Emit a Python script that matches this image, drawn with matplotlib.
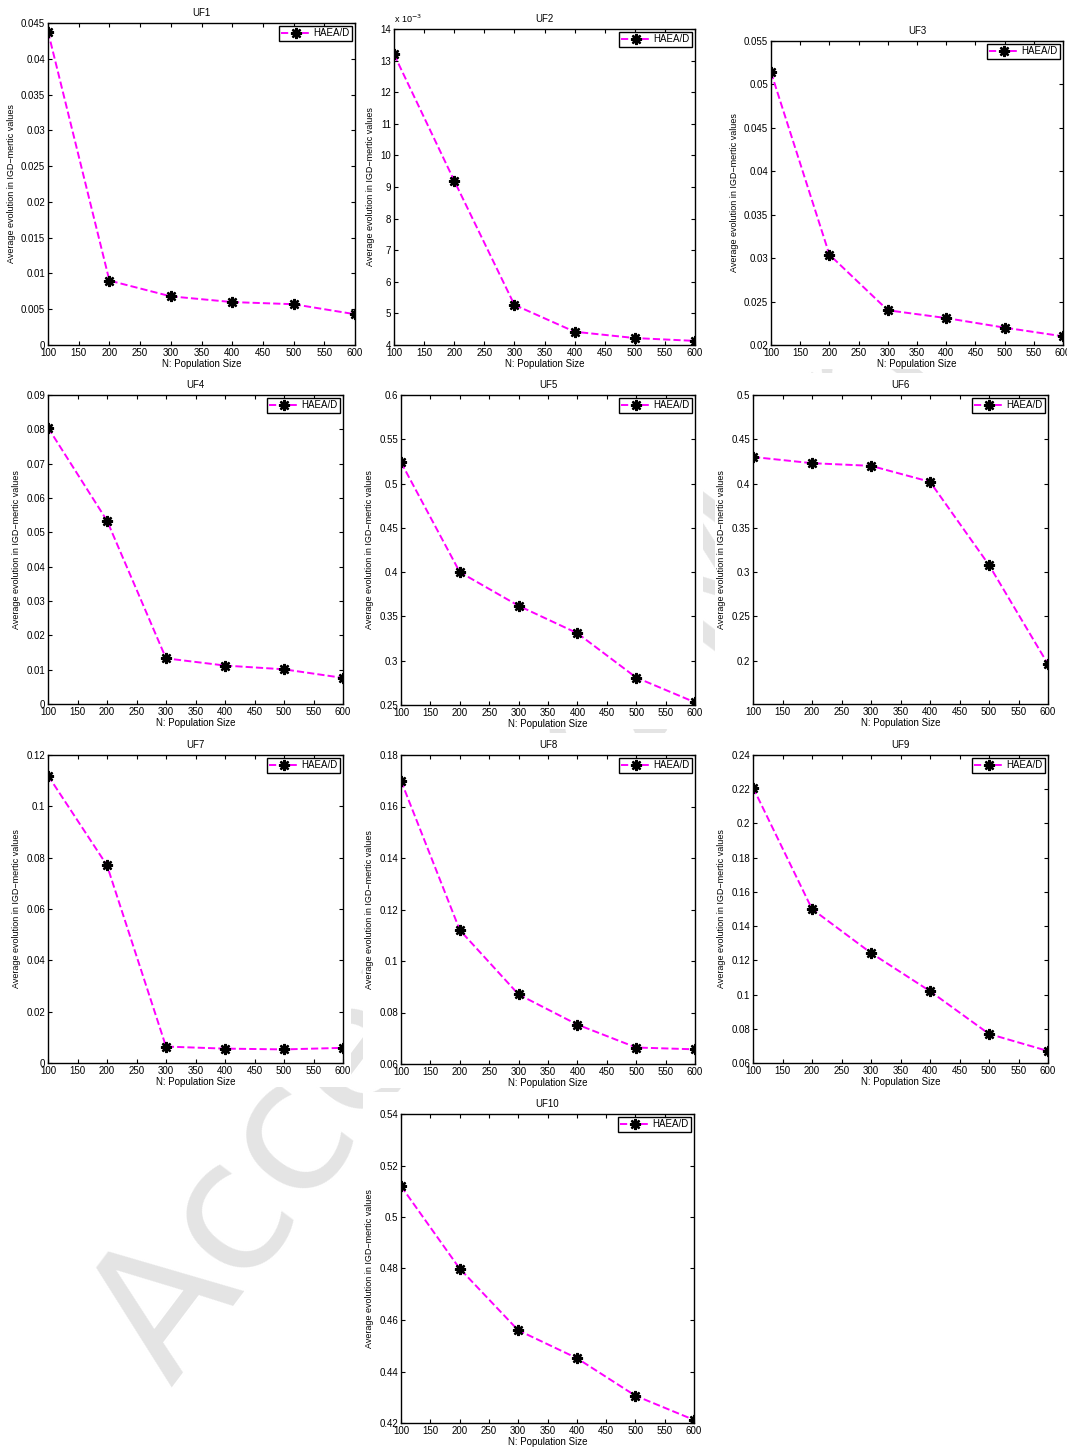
import matplotlib
matplotlib.use("Agg")
import matplotlib.pyplot as plt
from matplotlib.ticker import FuncFormatter
from matplotlib.patches import Rectangle
import numpy as np

plt.rcParams['font.family'] = ['Liberation Sans', 'DejaVu Sans']
plt.rcParams['axes.unicode_minus'] = False

# population sizes (x axis)
pop_size = [100, 200, 300, 400, 500, 600]

# average IGD values per problem
uf1 = [0.0438, 0.0090, 0.0068, 0.0060, 0.0057, 0.0043]
uf2 = [13.2e-3, 9.2e-3, 5.27e-3, 4.42e-3, 4.22e-3, 4.13e-3]
uf3 = [0.0514, 0.0304, 0.0240, 0.0231, 0.0220, 0.0210]
uf4 = [0.0805, 0.0534, 0.0133, 0.0112, 0.0101, 0.0076]
uf5 = [0.524, 0.400, 0.362, 0.331, 0.281, 0.253]
uf6 = [0.430, 0.423, 0.420, 0.402, 0.308, 0.196]
uf7 = [0.112, 0.077, 0.0064, 0.0056, 0.0053, 0.0059]
uf8 = [0.170, 0.112, 0.087, 0.0753, 0.0664, 0.0657]
uf9 = [0.221, 0.150, 0.1243, 0.102, 0.077, 0.067]
uf10 = [0.512, 0.480, 0.456, 0.4452, 0.4306, 0.4212]

titles = ['UF1', 'UF2', 'UF3', 'UF4', 'UF5', 'UF6', 'UF7', 'UF8', 'UF9', 'UF10']
series = [uf1, uf2, uf3, uf4, uf5, uf6, uf7, uf8, uf9, uf10]

# y limits and tick step for each panel
ylims = [(0, 0.045), (4e-3, 14e-3), (0.02, 0.055), (0, 0.09), (0.25, 0.6),
         (0.151, 0.5), (0, 0.12), (0.06, 0.18), (0.06, 0.24), (0.42, 0.54)]
ysteps = [0.005, 1e-3, 0.005, 0.01, 0.05, 0.05, 0.02, 0.02, 0.02, 0.02]

# axes boxes in pixels (left, top, right, bottom)
W, H = 1067, 1450
boxes = [(48, 23, 355, 345), (394, 29, 695, 345), (771, 41, 1063, 345),
         (48, 395, 343, 704), (401, 395, 695, 705), (753, 395, 1048, 704),
         (48, 755, 343, 1063), (401, 755, 695, 1064), (753, 755, 1048, 1063),
         (401, 1114, 694, 1423)]


def fmt(v, p):
    return '%g' % (round(v, 6) + 0.0)


def fmt_e3(v, p):
    return '%g' % (round(v * 1e3, 6) + 0.0)


fig = plt.figure(figsize=(W / 100, H / 100), dpi=100)

# faint watermark behind the panels
fig.text(172 / W, 1 - 1388 / H, "Accepted Manuscript", fontsize=130, color='#e4e4e4',
         rotation=53, rotation_mode='anchor', ha='left', va='baseline',
         zorder=-2, family='DejaVu Sans')

for i in range(10):
    l, t, r, b = boxes[i]
    # white backing for each panel (labels included), hides the watermark
    fig.patches.append(Rectangle(((l - 38) / W, 1 - (b + 24) / H),
                                 (r - l + 46) / W, (b - t + 46) / H,
                                 transform=fig.transFigure, facecolor='white',
                                 edgecolor='none', zorder=-1))
    ax = fig.add_axes([l / W, 1 - b / H, (r - l) / W, (b - t) / H])
    ax.set_facecolor('white')
    ax.plot(pop_size, series[i], linestyle='--', color='#ff00ff', linewidth=1.4,
            marker=(8, 2, 0), markersize=8, markeredgecolor='black',
            markeredgewidth=1.7, label='HAEA/D')
    ax.set_xlim(100, 600)
    ax.set_xticks(np.arange(100, 601, 50))
    lo, hi = ylims[i]
    ax.set_ylim(lo, hi)
    start = np.ceil(lo / ysteps[i] - 1e-6) * ysteps[i]
    ax.set_yticks(np.arange(start, hi + ysteps[i] / 2, ysteps[i]))
    if titles[i] == 'UF2':
        ax.yaxis.set_major_formatter(FuncFormatter(fmt_e3))
        ax.text(0, 1.012, r'x 10$^{-3}$', transform=ax.transAxes, fontsize=6.5,
                ha='left', va='bottom')
    else:
        ax.yaxis.set_major_formatter(FuncFormatter(fmt))
    ax.tick_params(direction='in', length=3, width=0.8, top=True, right=True,
                   labelsize=7, pad=2)
    for s in ax.spines.values():
        s.set_linewidth(1.0)
    ax.set_title(titles[i], fontsize=7, pad=5)
    ax.set_xlabel('N: Population Size', fontsize=7, labelpad=1)
    ax.set_ylabel('Average evolution in IGD\u2212mertic values', fontsize=6.5, labelpad=4)
    leg = ax.legend(loc='upper right', fontsize=7, handlelength=3.0,
                    handletextpad=0.3, borderpad=0.25, borderaxespad=0.3,
                    fancybox=False, framealpha=1, numpoints=1)
    leg.get_frame().set_edgecolor('black')
    leg.get_frame().set_linewidth(1.0)

fig.savefig('out.png', dpi=100)
